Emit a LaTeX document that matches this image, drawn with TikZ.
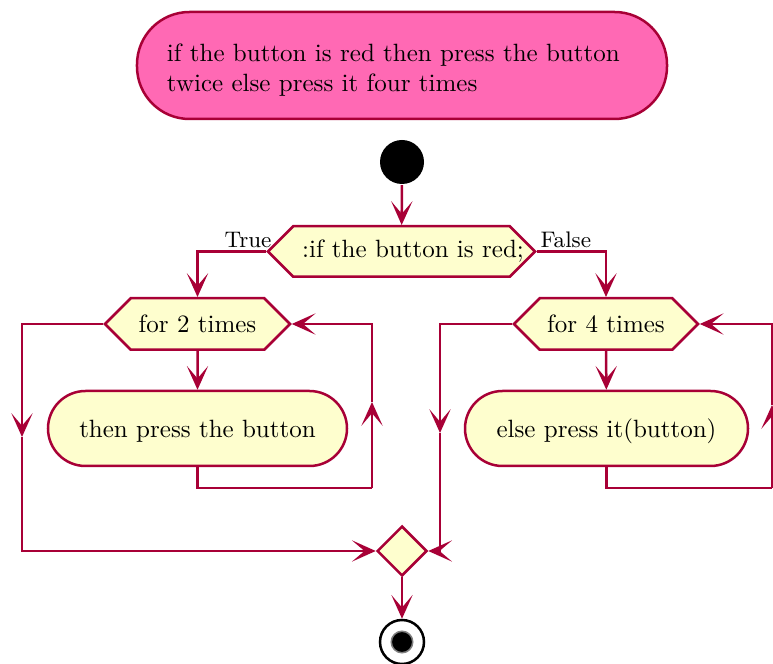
\documentclass[tikz,border=0pt]{standalone}
\usepackage{xcolor}
\usetikzlibrary{arrows.meta,calc,positioning,shapes.symbols,shapes.geometric}
\definecolor{umlred}{HTML}{A80036}
\definecolor{umlfill}{HTML}{FEFECE}
\definecolor{notepink}{HTML}{FF69B4}

\begin{document}
\begin{tikzpicture}[x=0.4pt,y=-0.4pt,line width=1pt,notebox/.style={rounded corners=21pt,draw=umlred,fill=notepink,text width=188pt,inner xsep=12pt,minimum height=42.8pt,align=left},pill/.style={rounded corners=15pt,draw=umlred,fill=umlfill,minimum height=30pt,text depth=0pt},hexbox/.style={signal,signal to=west and east,signal pointer angle=90,draw=umlred,fill=umlfill,minimum height=20.6pt,inner sep=0pt},arrow/.style={draw=umlred,-{Stealth[length=9.5pt,width=8.5pt,inset=5pt]}},flow/.style={draw=umlred},lbl/.style={font=\small,inner sep=1pt}]
\useasboundingbox (0,0) rectangle (773,664);
\clip (0,0) rectangle (773,664);
\node[notebox] (note) at (402,65.5) {\rule{0pt}{11pt}if the button is red then press the button\\twice else press it four times};
\node[circle,fill=black,minimum size=17.6pt,inner sep=0pt] (start) at (402,162) {};
\node[hexbox,minimum width=106.8pt,minimum height=20.2pt] (if) at (401.5,251.5) {\makebox[78pt]{\hspace*{9.2pt}:if the button is red;}};
\node[hexbox,minimum width=74pt] (for2) at (197.5,324) {for 2 times};
\node[pill,minimum width=119.6pt] (act2) at (197.5,428.5) {then press the button};
\node[hexbox,minimum width=73.6pt] (for4) at (606,324) {for 4 times};
\node[pill,minimum width=113.2pt] (act4) at (606.5,428.5) {else press it(button)};
\node[diamond,draw=umlred,fill=umlfill,minimum size=20pt,inner sep=0pt] (merge) at (402,551) {};
\node[circle,draw=black,fill=white,minimum size=17.6pt,inner sep=0pt] (stop) at (402,642) {};
\node[circle,fill=black,draw=gray,line width=0.6pt,minimum size=8.6pt,inner sep=0pt] (stopdot) at (stop) {};
% loop corners
\coordinate (ret2) at (372,488);
\coordinate (up2) at (372,402);
\coordinate (skip2) at (22,437);
\coordinate (ret4) at (772,488);
\coordinate (up4) at (772,405);
\coordinate (skip4) at (440,433);
\draw[arrow] (start) -- (if);
\draw[arrow] (if.west) node[lbl,above left,xshift=3.6pt]{True} -| (for2.north);
\draw[arrow] (if.east) node[lbl,above right]{False} -| (for4.north);
\draw[arrow] (for2) -- (act2);
\draw[flow] (act2.south) |- (ret2);
\draw[arrow] (ret2) -- (up2);
\draw[arrow] (up2) |- (for2.east);
\draw[arrow] (for2.west) -| (skip2);
\draw[arrow] (skip2) |- (merge.west);
\draw[arrow] (for4) -- (act4);
\draw[flow] (act4.south) |- (ret4);
\draw[arrow] (ret4) -- (up4);
\draw[arrow] (up4) |- (for4.east);
\draw[arrow] (for4.west) -| (skip4);
\draw[arrow] (skip4) |- (merge.east);
\draw[arrow] (merge) -- (stop);
\end{tikzpicture}
\end{document}
